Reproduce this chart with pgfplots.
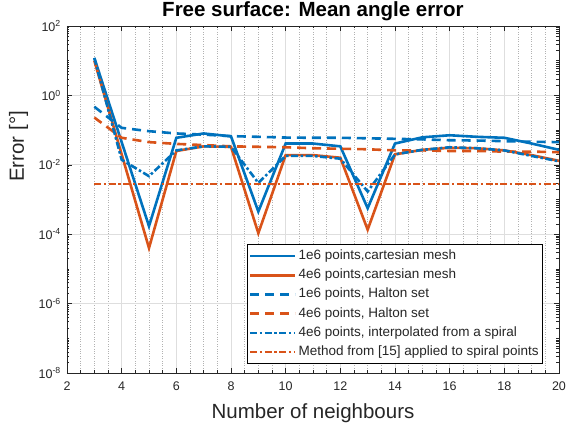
\documentclass[border=0pt]{standalone}
\usepackage{pgfplots}
\pgfplotsset{compat=1.18}
\usepackage{fontspec}
\setmainfont{Liberation Sans}
\definecolor{mblue}{rgb}{0,0.447,0.741}
\definecolor{morange}{rgb}{0.85,0.325,0.098}
\definecolor{axgray}{rgb}{0.15,0.15,0.15}
\tikzset{mline/.style={line width=2.6pt}}
\begin{document}
\begin{tikzpicture}
\path[use as bounding box] (-67pt,-57pt) rectangle (499pt,373pt);
\begin{axis}[
  scale only axis, width=492pt, height=347pt,
  at={(0pt,0pt)}, anchor=south west,
  xmin=2, xmax=20, ymode=log, ymin=1e-8, ymax=1e2,
  xtick={2,4,6,8,10,12,14,16,18,20},
  xticklabels={2,4,6,8,10,12,14,16,18,20},
  minor x tick num=3,
  ytick={1e-8,1e-6,1e-4,1e-2,1,1e2},
  yticklabels={10\textsuperscript{-8},10\textsuperscript{-6},10\textsuperscript{-4},10\textsuperscript{-2},10\textsuperscript{0},10\textsuperscript{2}},
  minor ytick={2e-8,3e-8,4e-8,5e-8,6e-8,7e-8,8e-8,9e-8,1e-7,2e-7,3e-7,4e-7,5e-7,6e-7,7e-7,8e-7,9e-7,
    2e-6,3e-6,4e-6,5e-6,6e-6,7e-6,8e-6,9e-6,1e-5,2e-5,3e-5,4e-5,5e-5,6e-5,7e-5,8e-5,9e-5,
    2e-4,3e-4,4e-4,5e-4,6e-4,7e-4,8e-4,9e-4,1e-3,2e-3,3e-3,4e-3,5e-3,6e-3,7e-3,8e-3,9e-3,
    2e-2,3e-2,4e-2,5e-2,6e-2,7e-2,8e-2,9e-2,1e-1,2e-1,3e-1,4e-1,5e-1,6e-1,7e-1,8e-1,9e-1,
    2,3,4,5,6,7,8,9,10,20,30,40,50,60,70,80,90},
  xmajorgrids, ymajorgrids, xminorgrids,
  major grid style={black!13, line width=0.6pt},
  minor grid style={black!30, dotted, line width=0.6pt},
  tick align=inside,
  axis line style={axgray, line width=0.6pt},
  every tick/.style={axgray, line width=0.5pt},
  major tick length=5pt, minor tick length=2.5pt,
  ticklabel style={font=\fontsize{12.5}{14}\selectfont, text=axgray, inner sep=0pt},
  xticklabel style={anchor=north, yshift=-9pt},
  yticklabel style={anchor=east, xshift=-6pt},
  title={Free surface: Mean angle error},
  title style={font=\fontsize{20.5}{24}\selectfont\bfseries, at={(axis description cs:0.5,1)}, anchor=base, yshift=3pt},
  xlabel={Number of neighbours},
  xlabel style={font=\fontsize{20.5}{24}\selectfont, text=axgray, at={(axis description cs:0.5,0)}, anchor=base, yshift=-46pt},
  ylabel={Error [°]},
  ylabel style={font=\fontsize{20.5}{24}\selectfont, text=axgray, at={([xshift=-43pt]axis description cs:0,0.653)}, anchor=base},
  legend style={at={(axis description cs:0.9675,0.026)}, anchor=south east, draw=black, line width=0.6pt, fill=white,
    font=\fontsize{13.5}{16}\selectfont, text=axgray, row sep=0pt, inner xsep=2pt, inner ysep=2pt,
    nodes={text height=10.5pt, text depth=3.5pt, inner ysep=2.6pt}},
  legend cell align=left,
  legend image code/.code={\draw[#1] (0pt,0pt) -- (45pt,0pt);},
]
\addplot[mline, mblue] coordinates {(3,12) (4,0.045) (5,1.7e-4) (6,0.06) (7,0.08) (8,0.066) (9,4.5e-4) (10,0.041) (11,0.041) (12,0.034) (13,5.6e-4) (14,0.041) (15,0.062) (16,0.071) (17,0.064) (18,0.06) (19,0.041) (20,0.027)};
\addlegendentry{1e6 points,cartesian mesh}
\addplot[mline, morange] coordinates {(3,10) (4,0.02) (5,4e-5) (6,0.025) (7,0.034) (8,0.033) (9,1.07e-4) (10,0.019) (11,0.019) (12,0.016) (13,1.35e-4) (14,0.02) (15,0.027) (16,0.031) (17,0.03) (18,0.026) (19,0.019) (20,0.013)};
\addlegendentry{4e6 points,cartesian mesh}
\addplot[mline, mblue, dash pattern=on 9pt off 6pt] coordinates {(3,0.47) (4,0.116) (5,0.093) (6,0.08) (7,0.074) (8,0.067) (9,0.064) (10,0.061) (11,0.06) (12,0.06) (13,0.058) (14,0.056) (15,0.054) (16,0.051) (17,0.05) (18,0.048) (19,0.046) (20,0.045)};
\addlegendentry{1e6 points, Halton set}
\addplot[mline, morange, dash pattern=on 9pt off 6pt] coordinates {(3,0.23) (4,0.06) (5,0.045) (6,0.04) (7,0.037) (8,0.034) (9,0.033) (10,0.032) (11,0.03) (12,0.029) (13,0.028) (14,0.026) (15,0.026) (16,0.025) (17,0.025) (18,0.024) (19,0.024) (20,0.023)};
\addlegendentry{4e6 points, Halton set}
\addplot[mline, mblue, dash pattern=on 7pt off 2.5pt on 2.5pt off 2.5pt] coordinates {(3,12) (4,0.014) (5,4.7e-3) (6,0.026) (7,0.034) (8,0.033) (9,3e-3) (10,0.018) (11,0.018) (12,0.015) (13,1.7e-3) (14,0.02) (15,0.027) (16,0.032) (17,0.03) (18,0.026) (19,0.018) (20,0.0126)};
\addlegendentry{4e6 points, interpolated from a spiral}
\addplot[mline, morange, dash pattern=on 7pt off 2.5pt on 2.5pt off 2.5pt] coordinates {(3,0.0028) (4,0.0028) (5,0.0028) (6,0.0028) (7,0.0028) (8,0.0028) (9,0.0028) (10,0.0028) (11,0.0028) (12,0.0028) (13,0.0028) (14,0.0028) (15,0.0028) (16,0.0028) (17,0.0028) (18,0.0028) (19,0.0028) (20,0.0028)};
\addlegendentry{Method from [15] applied to spiral points}
\end{axis}
\end{tikzpicture}
\end{document}
